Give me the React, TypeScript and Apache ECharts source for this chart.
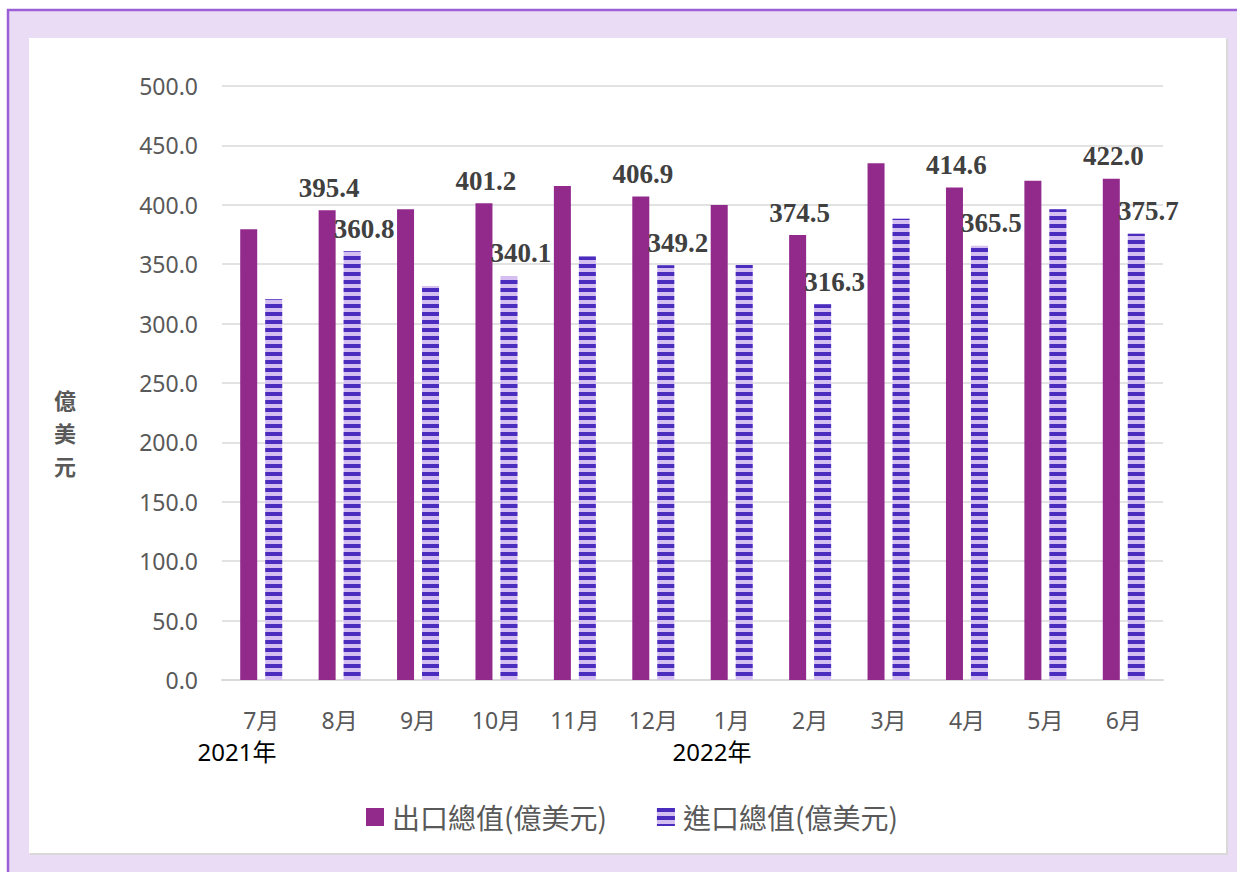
import React, { useEffect, useRef } from "react";
import * as echarts from "echarts";

const months = ["7月", "8月", "9月", "10月", "11月", "12月", "1月", "2月", "3月", "4月", "5月", "6月"];
const exportValues = [379.5, 395.4, 396.3, 401.2, 415.8, 406.9, 399.8, 374.5, 435.0, 414.6, 420.3, 422.0];
const importValues = [320.5, 360.8, 331.6, 340.1, 356.4, 349.2, 349.3, 316.3, 388.3, 365.5, 396.3, 375.7];
const labeledMonths = [false, true, false, true, false, true, false, true, false, true, false, true];
const yTicks = { min: 0, max: 500, interval: 50 };
const seriesNames = ["出口總值(億美元)", "進口總值(億美元)"];
const yearLabels = ["2021年", "2022年"];
const axisNameChars = ["億", "美", "元"];

export default function App() {
  const ref = useRef<HTMLDivElement>(null);
  useEffect(() => {
    document.body.style.margin = "0";
    document.body.style.overflow = "hidden";
    const chart = echarts.init(ref.current!, null, { renderer: "svg" });
    const labelFont = {
      fontFamily: "Liberation Serif",
      fontWeight: "bold" as const,
      fontSize: 27,
      color: "#404040",
    };
    const exportData = exportValues.map((v, i) => ({
      value: v,
      label: { show: labeledMonths[i] },
    }));
    const importData = importValues.map((v, i) => ({
      value: v,
      label: { show: labeledMonths[i] },
    }));
    const nameTexts = axisNameChars.map((c, i) => ({
      type: "text",
      z: 10,
      x: 65,
      y: 399 + i * 33,
      style: {
        text: c,
        fontSize: 22,
        fontWeight: "bold",
        fontFamily: "Noto Sans CJK TC",
        fill: "#595959",
        align: "center",
        verticalAlign: "middle",
      },
    }));
    const yearTexts = yearLabels.map((t, i) => ({
      type: "text",
      z: 10,
      x: i === 0 ? 237 : 712,
      y: 751,
      style: {
        text: t,
        fontSize: 24,
        fontFamily: "Noto Sans, Noto Sans CJK TC",
        fill: "#000000",
        align: "center",
        verticalAlign: "middle",
      },
    }));
    const option: any = {
      animation: false,
      backgroundColor: "transparent",
      graphic: [
        {
          type: "rect",
          z: -20,
          shape: { x: 8, y: 10, width: 1300, height: 900 },
          style: { fill: "#ebdcf5", stroke: "#9b5fd8", lineWidth: 2.5 },
        },
        {
          type: "rect",
          z: -19,
          shape: { x: 30, y: 39, width: 1198, height: 816 },
          style: { fill: "#d9d9d9" },
        },
        {
          type: "rect",
          z: -18,
          shape: { x: 29, y: 38, width: 1197, height: 815 },
          style: { fill: "#ffffff" },
        },
        ...nameTexts,
        ...yearTexts,
      ],
      grid: { left: 222, right: 74, top: 86, bottom: 192, containLabel: false },
      legend: {
        left: 361,
        top: 798,
        itemWidth: 18,
        itemHeight: 18,
        itemGap: 50,
        icon: "rect",
        textStyle: {
          fontSize: 28,
          color: "#595959",
          fontFamily: "Noto Sans CJK TC",
          padding: [0, 0, 0, 3],
        },
        data: seriesNames,
      },
      xAxis: {
        type: "category",
        data: months,
        axisLine: { lineStyle: { color: "#d9d9d9", width: 2 } },
        axisTick: { show: false },
        axisLabel: {
          fontSize: 23,
          color: "#595959",
          fontFamily: "Noto Sans, Noto Sans CJK TC",
          margin: 28,
          interval: 0,
        },
      },
      yAxis: {
        type: "value",
        min: yTicks.min,
        max: yTicks.max,
        interval: yTicks.interval,
        axisLine: { show: false },
        axisTick: { show: false },
        splitLine: { lineStyle: { color: "#d9d9d9", width: 1.5 } },
        axisLabel: {
          fontSize: 23,
          color: "#595959",
          fontFamily: "Noto Sans",
          margin: 24,
          formatter: (v: number) => v.toFixed(1),
        },
      },
      series: [
        {
          name: seriesNames[0],
          type: "bar",
          data: exportData,
          barWidth: 17,
          barGap: "47%",
          itemStyle: { color: "#922a8c" },
          label: {
            position: "top",
            distance: 9,
            offset: [2, 0],
            formatter: (p: any) => Number(p.value).toFixed(1),
            ...labelFont,
          },
        },
        {
          name: seriesNames[1],
          type: "bar",
          data: importData,
          barWidth: 17,
          itemStyle: {
            color: "#d5bff0",
            decal: {
              symbol: "rect",
              symbolSize: 1,
              symbolKeepAspect: false,
              color: "#4a2cbf",
              dashArrayX: [1, 0],
              dashArrayY: [4, 4],
              rotation: 0,
            },
          },
          label: {
            position: "top",
            distance: 9,
            offset: [12, 0],
            formatter: (p: any) => Number(p.value).toFixed(1),
            ...labelFont,
          },
        },
      ],
    };
    chart.setOption(option);
    return () => chart.dispose();
  }, []);
  return <div ref={ref} style={{ width: 1237, height: 872 }} />;
}
